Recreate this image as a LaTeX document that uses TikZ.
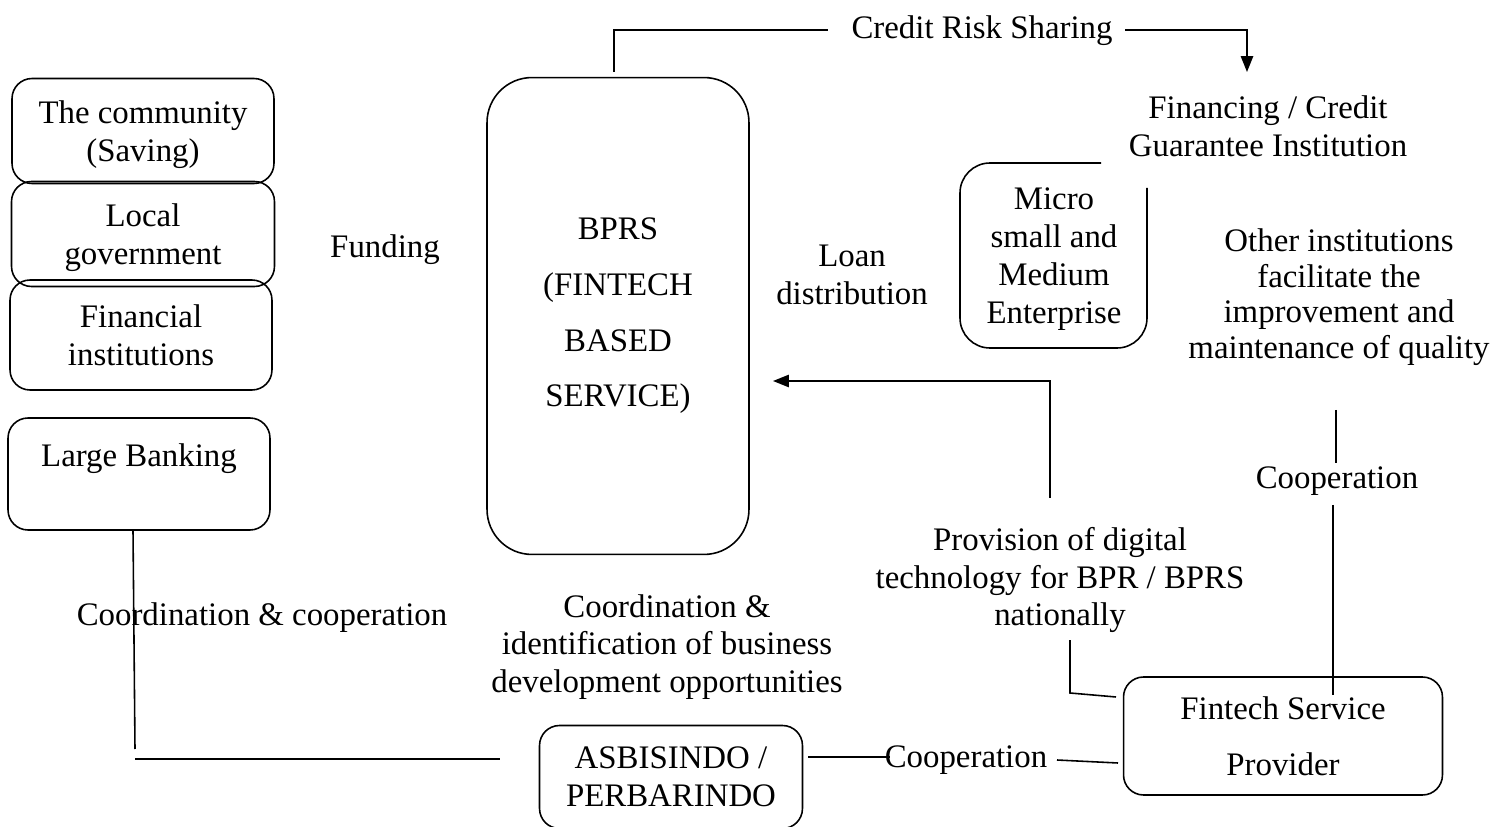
\documentclass[tikz,border=0pt]{standalone}
\usepackage{fontspec}
\setmainfont{Liberation Serif}
\usetikzlibrary{arrows.meta}
\newcommand{\lblfont}{\fontsize{18.7pt}{21.5pt}\selectfont}
\newcommand{\widefont}{\fontsize{18.7pt}{31.7pt}\selectfont}

\begin{document}
\begin{tikzpicture}[x=0.02cm,y=-0.02cm,line width=0.9pt,
    box/.style={draw,rounded corners=0.4cm,align=center,inner sep=0pt,font=\lblfont},
    lbl/.style={align=center,inner sep=0pt,font=\lblfont},
    tip/.style={-{Triangle[length=9pt,width=7pt]}}]
    \useasboundingbox (0,0) rectangle (1492,827);
    % sources of funds, stacked on the left
    \node[box,text depth=0pt,minimum width=5.24cm,minimum height=2.1cm] (comm) at (143,131) {The community\\(Saving)};
    \node[box,text depth=0pt,minimum width=5.26cm,minimum height=2.1cm] (locgov) at (143,234) {Local\\government};
    \node[box,minimum width=5.24cm,minimum height=2.2cm] (finst) at (141,335) {Financial\\institutions};
    \node[box,minimum width=5.24cm,minimum height=2.24cm] (bank) at (139,474) {Large Banking\\~};
    \node[lbl] (funding) at (385,250) {Funding};
    % the BPRS itself
    \node[box,rounded corners=0.9cm,font=\widefont,minimum width=5.24cm,minimum height=9.54cm]
      (bprs) at (618,316) {BPRS\\(FINTECH\\BASED\\SERVICE)};
    \node[lbl] (loan) at (852,275) {Loan\\distribution};
    % MSME box, open at its upper right corner
    \draw[rounded corners=0.6cm] (1101,163) -- (960,163) -- (960,348) -- (1147,348) -- (1147,188);
    \node[lbl] (msme) at (1054,259) {Micro\\small and\\Medium\\Enterprise};
    \node[lbl] (guar) at (1268,126) {Financing / Credit\\Guarantee Institution};
    \node[lbl,font=\fontsize{18.7pt}{20.3pt}\selectfont] (other) at (1339,297) {Other institutions\\facilitate the\\improvement and\\maintenance of quality};
    \node[lbl] (coopr) at (1337,481) {Cooperation};
    \node[lbl] (crs) at (982,31) {Credit Risk Sharing};
    % lower row
    \node[lbl] (prov) at (1060,580) {Provision of digital\\technology for BPR / BPRS\\nationally};
    \node[lbl] (coordl) at (262,618) {Coordination \& cooperation};
    \node[lbl] (coordm) at (667,647) {Coordination \&\\identification of business\\development opportunities};
    \node[box,minimum width=5.26cm,minimum height=2.06cm] (asbi) at (671,777) {ASBISINDO /\\PERBARINDO};
    \node[box,font=\widefont,text depth=-4.5pt,minimum width=6.38cm,minimum height=2.36cm] (fsp) at (1283,736) {Fintech Service\\Provider};
    \node[lbl] (coopb) at (966,760) {Cooperation};
    % loose ends of the connectors
    \coordinate (crsa) at (614,72);
    \coordinate (crsb) at (828,30);
    \coordinate (crsc) at (1125,30);
    \coordinate (crsd) at (1247,72);
    \coordinate (prova) at (1050,498);
    \coordinate (provb) at (773,381);
    \coordinate (otha) at (1336,410);
    \coordinate (othb) at (1336,463);
    \coordinate (othc) at (1333,505);
    \coordinate (othd) at (1333,695);
    \coordinate (natla) at (1070,640);
    \coordinate (natlb) at (1070,693);
    \coordinate (natlc) at (1116,697);
    \coordinate (coopa) at (808,757);
    \coordinate (coopc) at (890,757);
    \coordinate (coopd) at (1057,760);
    \coordinate (coope) at (1118,763);
    \coordinate (banka) at (133,530);
    \coordinate (bankb) at (135,749);
    \coordinate (bankc) at (135,759);
    \coordinate (bankd) at (500,759);
    % connectors
    \draw (crsa) |- (crsb);
    \draw[tip] (crsc) -| (crsd);
    \draw[tip] (prova) |- (provb);
    \draw (otha) -- (othb);
    \draw (othc) -- (othd);
    \draw (natla) -- (natlb) -- (natlc);
    \draw (coopa) -- (coopc);
    \draw (coopd) -- (coope);
    \draw (banka) -- (bankb);
    \draw (bankc) -- (bankd);
  \end{tikzpicture}
\end{document}
